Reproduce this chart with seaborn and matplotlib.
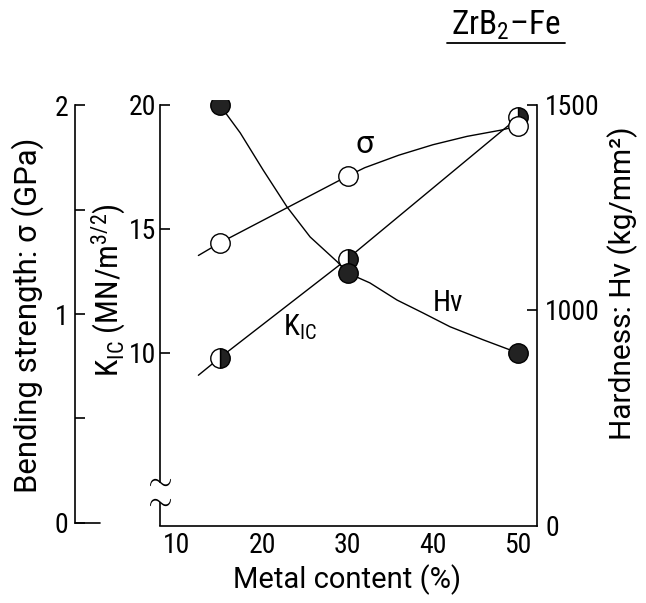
import matplotlib
matplotlib.use("Agg")
import matplotlib.pyplot as plt
import seaborn as sns
from matplotlib.lines import Line2D

sns.set_theme(style="white")
cond = 'Roboto Condensed'
plt.rcParams['font.family'] = [cond, 'DejaVu Sans']
plt.rcParams['mathtext.fontset'] = 'custom'
plt.rcParams['mathtext.rm'] = cond
plt.rcParams['mathtext.it'] = cond
for k in ('text.color', 'axes.labelcolor', 'xtick.color', 'ytick.color'):
    plt.rcParams[k] = 'black'
wide = ['Roboto', 'DejaVu Sans']

# measured points (ZrB2-Fe)
metal = [15, 30, 50]
sigma = [1.34, 1.66, 1.90]     # GPa
kic = [9.8, 13.8, 19.5]        # MN/m^3/2
hv = [1500, 1090, 895]         # kg/mm^2

# drawn curves, read along the lines of the figure
sigma_curve_x = [12.5, 15, 30, 32, 36, 40, 44, 48, 50]
sigma_curve_y = [1.28, 1.34, 1.66, 1.70, 1.76, 1.81, 1.85, 1.88, 1.90]
kic_curve_x = [12.5, 15, 30, 50]
kic_curve_y = [9.1, 9.8, 13.8, 19.5]
hv_curve_x = [14.5, 15, 17.4, 20.1, 22.9, 25.6, 28.8, 30, 32.6, 35.8, 38.8, 42.0, 45.9, 50]
hv_curve_y = [1565, 1500, 1432, 1341, 1251, 1178, 1117, 1090, 1066, 1024, 993, 959, 927, 895]

x_ticks = [10, 20, 30, 40, 50]
kic_ticks = [10, 15, 20]
sigma_ticks = [0, 1, 2]
sigma_minor = [0.5, 1.5]
hv_ticks = [1000, 1500]

W, H = 646, 603
fig = plt.figure(figsize=(W / 100, H / 100), dpi=100)
fig.patch.set_facecolor('white')

# main axes in pixel box: left 160, right 537, top 100, bottom 526
L, R, T, B = 160, 537, 100, 526
ax = fig.add_axes([L / W, 1 - B / H, (R - L) / W, (B - T) / H])
ax.set_facecolor('white')
ax.set_xlim(8.0, 52.2)
ax.set_ylim(3.02, 20.2)

ax_h = ax.twinx()
ax_h.set_ylim(473, 1512)
ax_s = ax.twinx()
ax_s.set_ylim(-0.0144, 2.024)

lw = 1.0
ms = 14
col = 'black'

# K_IC
sns.lineplot(x=kic_curve_x, y=kic_curve_y, ax=ax, color=col, lw=lw, sort=False, estimator=None)
ax.plot(metal, kic, 'o', ms=ms, fillstyle='right', markerfacecolor='#222222',
        markerfacecoloralt='white', markeredgecolor=col, markeredgewidth=1.0, zorder=3)

# Hardness
sns.lineplot(x=hv_curve_x, y=hv_curve_y, ax=ax_h, color=col, lw=lw, sort=False, estimator=None)
ax_h.plot(metal, hv, 'o', ms=ms, markerfacecolor='#222222', markeredgecolor=col,
          markeredgewidth=1.0, zorder=3)

# Bending strength
sns.lineplot(x=sigma_curve_x, y=sigma_curve_y, ax=ax_s, color=col, lw=lw, sort=False, estimator=None)
ax_s.plot(metal, sigma, 'o', ms=ms, markerfacecolor='white', markeredgecolor=col,
          markeredgewidth=1.0, zorder=3)

fs_tick = 20

# spines
for a in (ax, ax_h, ax_s):
    for s in a.spines.values():
        s.set_visible(False)
        s.set_linewidth(1.2)
        s.set_color('black')

ax.spines['bottom'].set_visible(True)
ax.spines['left'].set_visible(True)
ax.spines['left'].set_bounds(4.78, 20)
ax.plot([0, 0], [3.02, 3.98], transform=ax.get_yaxis_transform(), color='black',
        lw=1.2, clip_on=False, solid_capstyle='butt')
for yb in (4.78, 3.98):
    ax.plot([0], [yb], marker='$\\sim$', ms=15, mew=0, color='black', lw=0,
            transform=ax.get_yaxis_transform(), clip_on=False)

ax.set_xticks(x_ticks)
ax.set_xticklabels([str(v) for v in x_ticks])
ax.tick_params(axis='x', length=0, pad=4, labelsize=fs_tick)
ax.set_yticks(kic_ticks)
ax.set_yticklabels([str(v) for v in kic_ticks])
ax.tick_params(axis='y', direction='in', length=7, width=1.2, pad=3, labelsize=fs_tick,
               left=True, right=False)

ax_h.spines['right'].set_visible(True)
ax_h.spines['right'].set_bounds(473, 1500)
ax_h.set_yticks([473] + hv_ticks)
ax_h.set_yticklabels(['0'] + [str(v) for v in hv_ticks])
ax_h.tick_params(axis='y', direction='in', length=7, width=1.2, pad=6, labelsize=fs_tick)
ax_h.yaxis.get_major_ticks()[0].tick2line.set_visible(False)

ax_s.yaxis.set_ticks_position('left')
ax_s.yaxis.set_label_position('left')
ax_s.spines['left'].set_visible(True)
ax_s.spines['left'].set_position(('axes', -85 / (R - L)))
ax_s.spines['left'].set_bounds(0, 2)
ax_s.set_yticks(sigma_ticks)
ax_s.set_yticklabels([str(v) for v in sigma_ticks])
ax_s.set_yticks(sigma_minor, minor=True)
ax_s.tick_params(axis='y', which='both', direction='in', length=7, width=1.2, pad=5,
                 labelsize=fs_tick, left=True, right=False)
ax_s.plot([-85 / (R - L), -60 / (R - L)], [0, 0], transform=ax_s.get_yaxis_transform(),
          color='black', lw=1.2, clip_on=False)

for a in (ax, ax_h, ax_s):
    a.set_xlabel('')
    a.set_ylabel('')
    a.grid(False)

# curve labels
ax.text(32.0, 18.4, 'σ', fontsize=23, ha='center', va='center', family=wide)
ax.text(41.8, 12.0, 'Hv', fontsize=21, ha='center', va='center')
ax.text(24.4, 11.05, 'K$_{\\rm IC}$', fontsize=21, ha='center', va='center')

# axis titles; last number is the length in pixels that the text spans in the figure
titles = [
    (28, 315, 'Bending strength: σ (GPa)', 90, wide, 355),
    (109, 290, 'K$_{\\rm IC}$ (MN/m$^{3/2}$)', 90, [cond], 174),
    (623, 283, 'Hardness: Hv (kg/mm²)', 90, wide, 313),
    (347, 580, 'Metal content (%)', 0, wide, 227),
    (506, 25, 'ZrB$_2$–Fe', 0, [cond], 110),
]
placed = []
for px, py, s, rot, famly, span in titles:
    t = fig.text(px / W, 1 - py / H, s, rotation=rot, ha='center', va='center',
                 fontsize=20, family=famly)
    placed.append((t, rot, span))

renderer = fig.canvas.get_renderer()
for t, rot, span in placed:
    bb = t.get_window_extent(renderer)
    size = bb.height if rot else bb.width
    t.set_fontsize(20 * span / size)

fig.add_artist(Line2D([447 / W, 565 / W], [1 - 43 / H, 1 - 43 / H], color='black', lw=1.3))

fig.savefig('out.png', dpi=100, facecolor='white')
